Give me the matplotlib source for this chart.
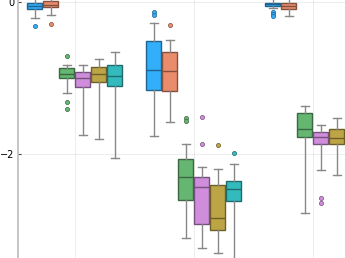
import numpy as np
import matplotlib
matplotlib.use("Agg")
import matplotlib.pyplot as plt
from matplotlib.colors import to_rgb

# Data: one row per series, one column per group
groups = [1, 2, 3]
colors = ["#009AFA", "#E36F47", "#3EA44E", "#C371D2", "#AC8E18", "#00A9AD"]

whislo = [[-0.21, -1.758, -0.077],
          [-0.165, -1.582, -0.178],
          [-1.19, -3.113, -2.783],
          [-1.753, -3.237, -2.215],
          [-1.806, -3.311, -2.281],
          [-2.057, -3.6, -2.3]]
q1 = [[-0.09, -1.155, -0.042],
      [-0.063, -1.168, -0.09],
      [-1.0, -2.612, -1.772],
      [-1.12, -2.924, -1.868],
      [-1.045, -3.003, -1.872],
      [-1.106, -2.617, -1.9]]
med = [[-0.05, -0.895, -0.024],
       [-0.033, -0.908, -0.05],
       [-0.948, -2.3, -1.666],
       [-1.0, -2.432, -1.78],
       [-0.948, -2.849, -1.793],
       [-0.974, -2.466, -1.8]]
q3 = [[-0.011, -0.508, -0.003],
      [0.016, -0.657, -0.011],
      [-0.869, -2.07, -1.463],
      [-0.921, -2.308, -1.713],
      [-0.855, -2.413, -1.674],
      [-0.829, -2.356, -1.7]]
whishi = [[0.08, -0.275, 0.06],
          [0.09, -0.499, 0.07],
          [-0.825, -1.872, -1.366],
          [-0.825, -2.168, -1.621],
          [-0.742, -2.194, -1.529],
          [-0.657, -2.136, -1.5]]
fliers = [[[-0.31], [-0.125, -0.16], [-0.12, -0.15, -0.18]],
          [[-0.284], [-0.297], []],
          [[-0.70, -1.31, -1.406], [-1.53, -1.57], []],
          [[], [-1.516, -1.864], [-2.585, -2.651]],
          [[], [-1.877], []],
          [[], [-1.99], []]]

yticks = [0, -2]
ytick_labels = ["0", "\u22122"]

fig = plt.figure(figsize=(3.45, 2.58), dpi=100)
ax = fig.add_axes([17.7 / 345, 0, 1 - 17.7 / 345, 1])

n = len(colors)
step = 0.1345
for i, c in enumerate(colors):
    rgb = np.array(to_rgb(c))
    fill = tuple(rgb * 0.8 + 0.2)
    dark = tuple(rgb * 0.45 + 0.12)
    stats = []
    for j in range(len(groups)):
        stats.append(dict(med=med[i][j], q1=q1[i][j], q3=q3[i][j],
                          whislo=whislo[i][j], whishi=whishi[i][j],
                          fliers=fliers[i][j]))
    pos = [g + (i - (n - 1) / 2) * step for g in groups]
    ax.bxp(stats, positions=pos, widths=0.122, capwidths=0.065,
           patch_artist=True, manage_ticks=False,
           boxprops=dict(facecolor=fill, edgecolor=dark, linewidth=1.0),
           medianprops=dict(color=dark, linewidth=1.0),
           whiskerprops=dict(color="#888888", linewidth=1.0),
           capprops=dict(color="#888888", linewidth=1.0),
           flierprops=dict(marker="o", markersize=3.0, markerfacecolor=fill,
                           markeredgecolor=dark, markeredgewidth=0.5))

ax.set_xlim(0.521, 3.271)
ax.set_ylim(-3.373, 0.033)
ax.set_xticks(groups)
ax.set_xticklabels([])
ax.set_yticks(yticks)
ax.set_yticklabels(ytick_labels, fontsize=7)
ax.tick_params(axis="x", length=0)
ax.tick_params(axis="y", direction="in", length=2, pad=2.5, color="#444444")
ax.grid(True, color="black", alpha=0.1, linewidth=0.5)
ax.set_axisbelow(True)
for s in ["top", "right", "bottom"]:
    ax.spines[s].set_visible(False)
ax.spines["left"].set_color("#bbbbbb")
ax.spines["left"].set_linewidth(1.2)

fig.savefig("out.png", dpi=100)
